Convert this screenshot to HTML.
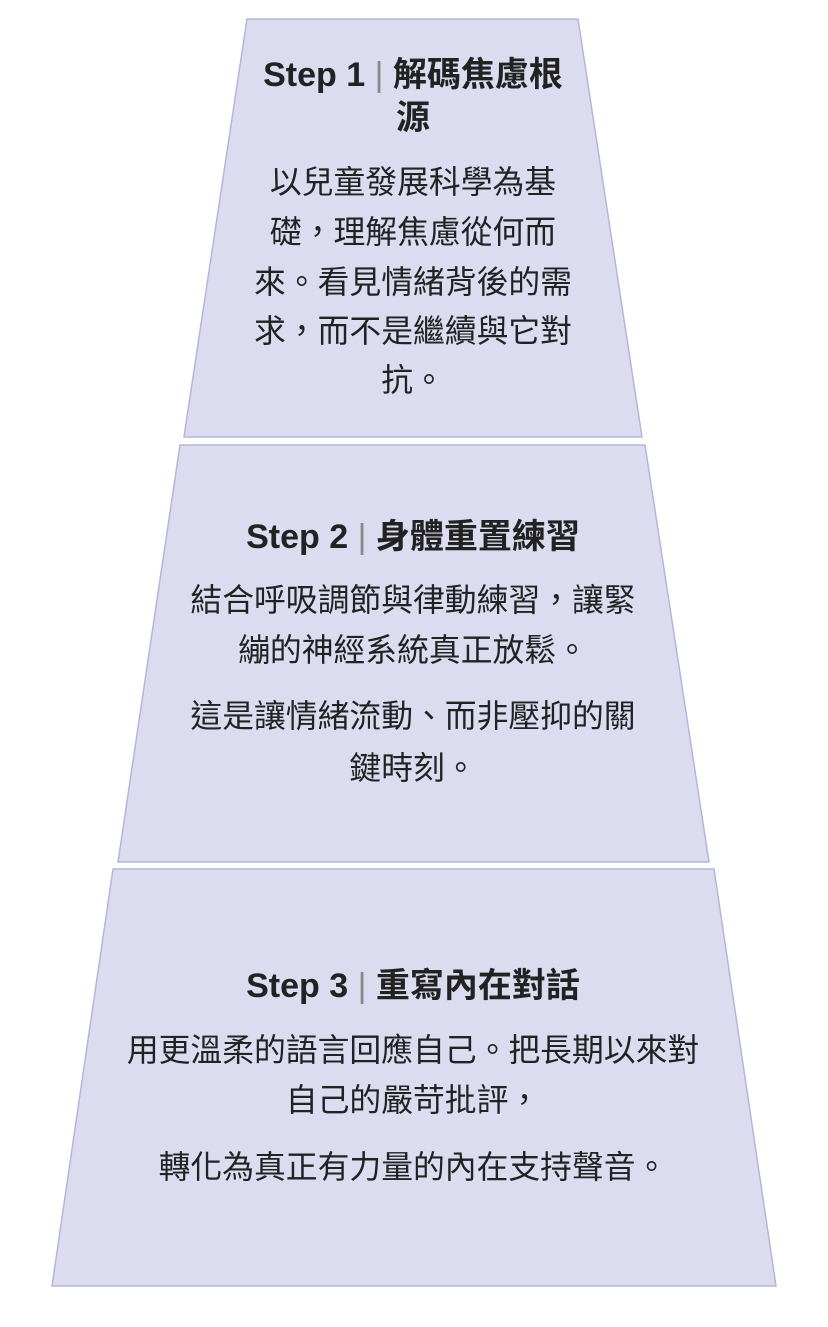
<!DOCTYPE html>
<html><head><meta charset="utf-8"><style>
html,body{margin:0;padding:0;background:#fff;}
svg{display:block;}
text{font-family:"Liberation Sans","Noto Sans CJK TC",sans-serif;fill:#222;text-anchor:middle;}
.t{font-size:34px;font-weight:bold;}
.b{font-size:31.8px;}
.s{font-weight:normal;fill:#888;}
</style></head><body>
<svg width="828" height="1327" viewBox="0 0 828 1327">
<g fill="#dcdcf1" stroke="#b5b5dc" stroke-width="1.5">
<polygon points="247,19 578,19 642,437 184,437"/>
<polygon points="180,445 645,445 709,862 118,862"/>
<polygon points="113,869 714,869 776,1286 52,1286"/>
</g>
<text class="t" x="413" y="86">Step 1<tspan class="s"> | </tspan>解碼焦慮根</text>
<text class="t" x="413" y="129">源</text>
<text class="b" x="413" y="193">以兒童發展科學為基</text>
<text class="b" x="413" y="243">礎，理解焦慮從何而</text>
<text class="b" x="413" y="293">來。看見情緒背後的需</text>
<text class="b" x="413" y="342">求，而不是繼續與它對</text>
<text class="b" x="413" y="391">抗。</text>
<text class="t" x="413" y="548">Step 2<tspan class="s"> | </tspan>身體重置練習</text>
<text class="b" x="413" y="611">結合呼吸調節與律動練習，讓緊</text>
<text class="b" x="413" y="661">繃的神經系統真正放鬆。</text>
<text class="b" x="413" y="727">這是讓情緒流動、而非壓抑的關</text>
<text class="b" x="413" y="779">鍵時刻。</text>
<text class="t" x="413" y="997">Step 3<tspan class="s"> | </tspan>重寫內在對話</text>
<text class="b" x="413" y="1061">用更溫柔的語言回應自己。把長期以來對</text>
<text class="b" x="413" y="1111">自己的嚴苛批評，</text>
<text class="b" x="413" y="1178">轉化為真正有力量的內在支持聲音。</text>
</svg>
</body></html>
